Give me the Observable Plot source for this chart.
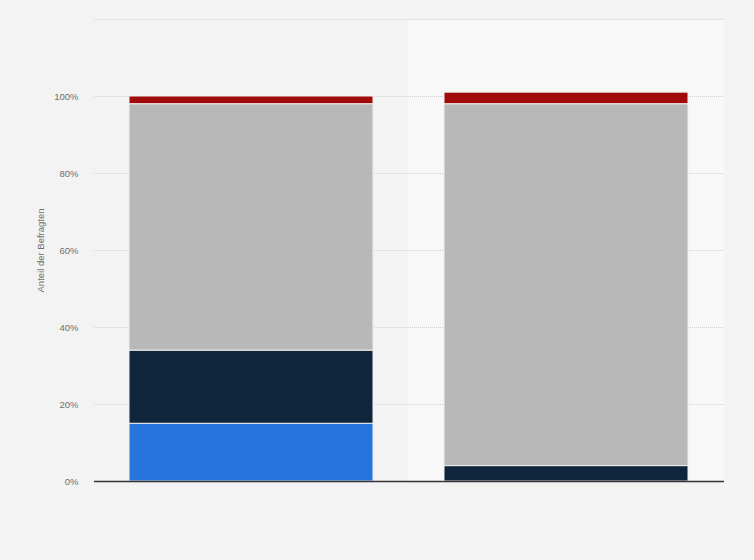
<!DOCTYPE html>
<html>
<head>
<meta charset="utf-8">
<script src="https://cdn.jsdelivr.net/npm/d3@7"></script>
<script src="https://cdn.jsdelivr.net/npm/@observablehq/plot@0.6"></script>
<style>
  html, body { margin: 0; padding: 0; background: #f3f3f3; }
  #chart svg { display: block; font-family: "Liberation Sans", Arial, sans-serif; }
</style>
</head>
<body>
<div id="chart"></div>
<script>
const categories = ["Gruppe 1", "Gruppe 2"];
const series = ["Antwort A", "Antwort B", "Antwort C", "Antwort D"];
const valuesGroup1 = [15, 19, 64, 2];
const valuesGroup2 = [0, 4, 94, 3];
const colors = ["#2876dd", "#0f253c", "#b8b8b8", "#a10a0a"];
const yTicks = [0, 20, 40, 60, 80, 100];
const gridTicks = [20, 40, 60, 80, 100, 120];
const highlighted = ["Gruppe 2"];

const allValues = [valuesGroup1, valuesGroup2];
const data = [];
categories.forEach((c, i) => {
  series.forEach((s, j) => data.push({ category: c, series: s, value: allValues[i][j] }));
});

const chart = Plot.plot({
  width: 754,
  height: 560,
  marginTop: 19,
  marginBottom: 79,
  marginLeft: 94,
  marginRight: 30,
  style: { background: "#f3f3f3", fontSize: "9.5px", color: "#666" },
  x: { domain: categories, paddingInner: 0.225, paddingOuter: 0.11, axis: null },
  y: { domain: [0, 120], ticks: yTicks, tickFormat: d => d + "%", label: null },
  color: { domain: series, range: colors },
  marks: [
    Plot.barY(highlighted, { x: d => d, y1: 0, y2: 120, fill: "#f8f8f8", insetLeft: -36, insetRight: -36 }),
    Plot.gridY(gridTicks, { stroke: "#cfcfcf", strokeOpacity: 1, strokeDasharray: "1,1" }),
    Plot.axisY(yTicks, { tickSize: 0, tickPadding: 16, tickFormat: d => d + "%", fill: "#6e6e6e", label: null }),
    Plot.text(["Anteil der Befragten"], { frameAnchor: "left", dx: -54, rotate: -90, fill: "#6e6e6e", fontSize: 9.5, textAnchor: "middle" }),
    Plot.barY(data, Plot.stackY({ x: "category", y: "value", fill: "series", stroke: "#f0f0f0", strokeWidth: 1 })),
    Plot.ruleY([0], { stroke: "#333", strokeWidth: 1.5 })
  ]
});
document.getElementById("chart").appendChild(chart);
</script>
</body>
</html>
